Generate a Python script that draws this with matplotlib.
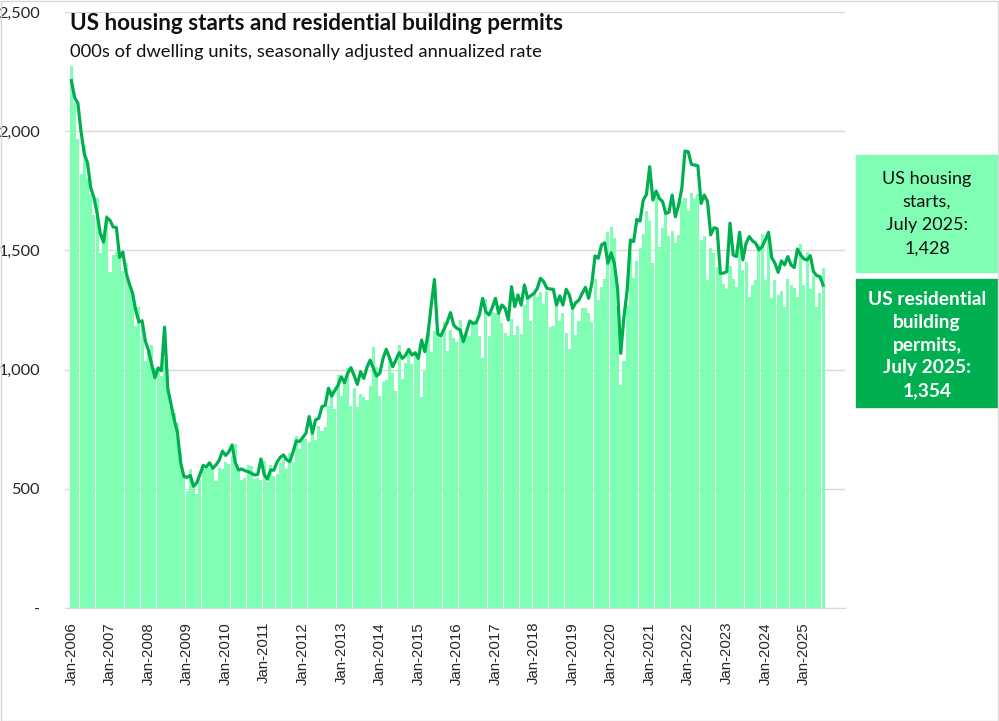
import matplotlib.pyplot as plt
import matplotlib.patches as mpatches
import numpy as np

# housing starts, 000s SAAR, Jan 2006 - Jul 2025
starts_2006 = [2273, 2119, 1969, 1821, 1942, 1802, 1737, 1650, 1720, 1491, 1570, 1649]
starts_2007 = [1409, 1480, 1495, 1490, 1415, 1448, 1354, 1330, 1183, 1264, 1197, 1037]
starts_2008 = [1084, 1103, 1005, 1013, 973, 1046, 923, 844, 820, 777, 652, 560]
starts_2009 = [490, 582, 505, 478, 540, 585, 594, 586, 585, 534, 588, 581]
starts_2010 = [614, 604, 636, 687, 583, 536, 546, 599, 594, 543, 545, 539]
starts_2011 = [617, 528, 599, 554, 561, 608, 623, 585, 650, 611, 723, 666]
starts_2012 = [720, 708, 695, 753, 704, 763, 743, 758, 847, 915, 833, 976]
starts_2013 = [888, 962, 1005, 847, 922, 845, 898, 883, 871, 931, 1093, 1012]
starts_2014 = [889, 947, 958, 1059, 984, 909, 1102, 962, 1029, 1082, 1024, 1077]
starts_2015 = [1071, 885, 996, 1155, 1074, 1164, 1145, 1132, 1198, 1079, 1168, 1132]
starts_2016 = [1114, 1208, 1113, 1167, 1143, 1196, 1205, 1139, 1050, 1296, 1143, 1243]
starts_2017 = [1238, 1272, 1197, 1152, 1140, 1211, 1146, 1184, 1148, 1270, 1305, 1202]
starts_2018 = [1326, 1305, 1327, 1276, 1329, 1180, 1183, 1292, 1205, 1238, 1152, 1088]
starts_2019 = [1275, 1146, 1203, 1257, 1259, 1236, 1199, 1381, 1292, 1345, 1380, 1579]
starts_2020 = [1598, 1551, 1268, 934, 1038, 1265, 1487, 1383, 1457, 1511, 1567, 1666]
starts_2021 = [1625, 1447, 1725, 1514, 1594, 1657, 1562, 1580, 1530, 1563, 1706, 1720]
starts_2022 = [1666, 1740, 1716, 1735, 1543, 1561, 1377, 1508, 1488, 1432, 1401, 1357]
starts_2023 = [1340, 1436, 1380, 1348, 1583, 1418, 1451, 1305, 1356, 1376, 1525, 1568]
starts_2024 = [1376, 1546, 1299, 1377, 1315, 1329, 1262, 1379, 1355, 1344, 1305, 1526]
starts_2025 = [1355, 1494, 1339, 1392, 1263, 1321, 1428]

# residential building permits, 000s SAAR
permits_2006 = [2212, 2141, 2118, 1998, 1905, 1867, 1763, 1722, 1655, 1570, 1535, 1638]
permits_2007 = [1626, 1598, 1596, 1470, 1493, 1407, 1361, 1322, 1250, 1200, 1205, 1120]
permits_2008 = [1080, 1020, 966, 1007, 995, 1178, 920, 855, 790, 736, 610, 552]
permits_2009 = [548, 556, 510, 525, 560, 598, 592, 609, 586, 600, 620, 658]
permits_2010 = [640, 655, 684, 610, 579, 583, 576, 572, 565, 558, 560, 625]
permits_2011 = [560, 540, 579, 578, 612, 632, 642, 622, 614, 655, 702, 698]
permits_2012 = [715, 733, 803, 733, 789, 796, 845, 850, 922, 889, 912, 935]
permits_2013 = [970, 945, 985, 1008, 975, 938, 991, 963, 1010, 1040, 1005, 973]
permits_2014 = [985, 1047, 1085, 1050, 1012, 1040, 1071, 1047, 1060, 1085, 1061, 1070]
permits_2015 = [1047, 1124, 1075, 1150, 1270, 1378, 1150, 1141, 1170, 1200, 1239, 1187]
permits_2016 = [1173, 1166, 1117, 1160, 1204, 1194, 1197, 1230, 1299, 1243, 1229, 1260]
permits_2017 = [1299, 1236, 1271, 1257, 1208, 1348, 1264, 1313, 1271, 1355, 1299, 1310]
permits_2018 = [1320, 1340, 1383, 1369, 1341, 1338, 1337, 1271, 1309, 1271, 1337, 1313]
permits_2019 = [1257, 1281, 1292, 1320, 1345, 1299, 1362, 1477, 1467, 1523, 1532, 1446]
permits_2020 = [1490, 1446, 1340, 1068, 1222, 1334, 1544, 1537, 1630, 1623, 1711, 1735]
permits_2021 = [1851, 1711, 1749, 1718, 1705, 1655, 1660, 1732, 1641, 1690, 1760, 1917]
permits_2022 = [1914, 1861, 1858, 1855, 1697, 1732, 1705, 1565, 1595, 1591, 1404, 1405]
permits_2023 = [1411, 1614, 1481, 1474, 1576, 1460, 1530, 1558, 1540, 1530, 1502, 1516]
permits_2024 = [1544, 1576, 1469, 1446, 1408, 1456, 1439, 1474, 1439, 1428, 1506, 1481]
permits_2025 = [1464, 1460, 1478, 1411, 1394, 1390, 1354]

starts = (starts_2006 + starts_2007 + starts_2008 + starts_2009 + starts_2010 + starts_2011
          + starts_2012 + starts_2013 + starts_2014 + starts_2015 + starts_2016 + starts_2017
          + starts_2018 + starts_2019 + starts_2020 + starts_2021 + starts_2022 + starts_2023
          + starts_2024 + starts_2025)
permits = (permits_2006 + permits_2007 + permits_2008 + permits_2009 + permits_2010 + permits_2011
           + permits_2012 + permits_2013 + permits_2014 + permits_2015 + permits_2016 + permits_2017
           + permits_2018 + permits_2019 + permits_2020 + permits_2021 + permits_2022 + permits_2023
           + permits_2024 + permits_2025)

years = list(range(2006, 2026))
tick_labels = ['Jan-' + str(y) for y in years]

verde_claro = '#80FFB4'
verde = '#00B050'
cinza = '#D9D9D9'

meses = np.arange(len(starts))

fig = plt.figure(figsize=(9.99, 7.21), dpi=100)
ax = fig.add_axes([65/999, 1 - 608/721, 780/999, 596/721])

ax.bar(meses, starts, width=0.95, color=verde_claro, zorder=2)
ax.plot(meses, permits, color=verde, lw=2.3, zorder=3, solid_joinstyle='round')

ax.set_ylim(0, 2500)
ax.set_xlim(-2.0, 240.8)
ax.set_yticks([0, 500, 1000, 1500, 2000, 2500])
ax.set_yticklabels(['-', '500', '1,000', '1,500', '2,000', '2,500'],
                   family='Lato', fontsize=11.8, color='#262626')
ax.set_xticks([12 * i for i in range(len(years))])
ax.set_xticklabels(tick_labels, rotation=90, family='Liberation Sans', fontsize=10.8, color='#262626')
ax.tick_params(length=0)
ax.tick_params(axis='x', pad=10)
ax.tick_params(axis='y', pad=18)

ax.grid(axis='y', color=cinza, lw=1, zorder=0)
for s in ['top', 'right', 'left']:
    ax.spines[s].set_visible(False)
ax.spines['bottom'].set_color(cinza)

fig.text(70/999, 1 - 23/721, 'US housing starts and residential building permits',
         family='Lato', fontweight='bold', fontsize=16.2, va='center', ha='left', color='#111111')
fig.text(70/999, 1 - 52/721, '000s of dwelling units, seasonally adjusted annualized rate',
         family='Lato', fontsize=13.2, va='center', ha='left', color='#111111')

# caixas laterais
fig.patches.append(mpatches.Rectangle((856/999, 1 - 272/721), 143/999, 117/721,
                                      transform=fig.transFigure, color=verde_claro, zorder=1))
fig.patches.append(mpatches.Rectangle((856/999, 1 - 407/721), 143/999, 128/721,
                                      transform=fig.transFigure, color=verde, zorder=1))
fig.text(927/999, 1 - 213.5/721, 'US housing\nstarts,\nJuly 2025:\n1,428', ha='center', va='center',
         family='Lato', fontsize=13, linespacing=1.55, color='#111111')
fig.text(927/999, 1 - 345/721, 'US residential\nbuilding\npermits,\nJuly 2025:\n1,354', ha='center',
         va='center', family='Lato', fontsize=13.8, fontweight='bold', linespacing=1.42, color='white')

# borda do grafico
fig.patches.append(mpatches.Rectangle((0.5/999, 0.5/721), 997.5/999, 719.5/721, transform=fig.transFigure,
                                      fill=False, edgecolor=cinza, lw=1))

plt.savefig('out.png', dpi=100)
